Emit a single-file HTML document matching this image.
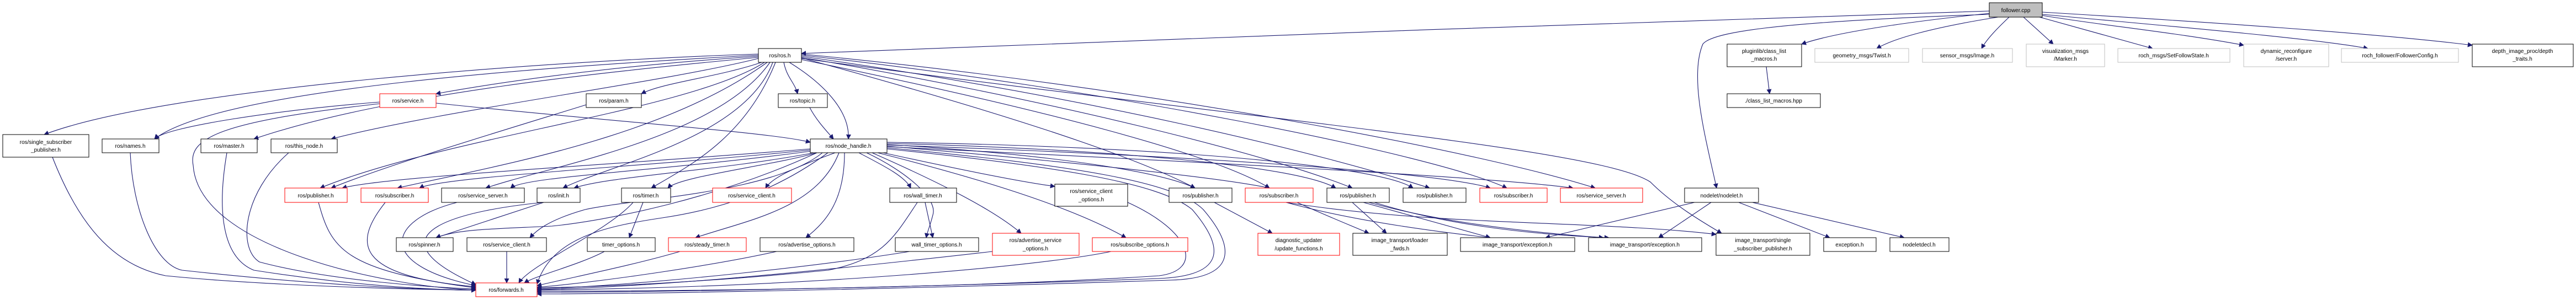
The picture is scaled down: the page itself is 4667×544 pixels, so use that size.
<!DOCTYPE html>
<html><head><meta charset="utf-8"><style>
html,body{margin:0;padding:0;background:#fff;}
svg{display:block;}
.e{fill:none;stroke:#191970;stroke-width:1.1;}
text{font-family:"Liberation Sans",sans-serif;font-size:10px;text-anchor:middle;fill:#000;}
</style></head><body>
<svg width="4667" height="544" viewBox="0 0 4667 544" xmlns="http://www.w3.org/2000/svg">
<defs><marker id="a" viewBox="0 0 10 10" refX="9" refY="5" markerWidth="9" markerHeight="9" markerUnits="userSpaceOnUse" orient="auto"><path d="M0,0 L10,5 L0,10 z" fill="#191970"/></marker></defs>
<g class="e" marker-end="url(#a)">
<!-- follower -->
<path d="M3604,20 C3000,40 2000,72 1452,97"/>
<path d="M3606,24 C3450,40 3320,60 3264,80"/>
<path d="M3620,31 C3500,50 3430,70 3400,88"/>
<path d="M3640,31 C3620,50 3600,70 3590,88"/>
<path d="M3666,31 L3720,80"/>
<path d="M3695,31 L3900,88"/>
<path d="M3700,28 C3800,45 3950,60 4065,82"/>
<path d="M3700,26 C3900,45 4200,70 4290,88"/>
<path d="M3700,22 C4000,40 4300,60 4479,82"/>
<path d="M3604,26 C3200,40 3100,60 3085,80 C3060,140 3090,250 3110,341"/>
<path d="M3200,121 L3206,170"/>
<!-- ros.h -->
<path d="M1374,98 C1000,110 300,160 80,244"/>
<path d="M1374,100 C1000,120 400,160 280,252"/>
<path d="M1374,104 C1100,130 700,170 460,252"/>
<path d="M1374,106 C1200,150 800,200 600,252"/>
<path d="M1374,102 C1100,120 900,150 790,170"/>
<path d="M1380,113 C1300,140 1200,150 1162,170"/>
<path d="M1420,113 C1425,140 1440,150 1445,170"/>
<path d="M1430,113 C1490,150 1540,200 1537,252"/>
<path d="M1385,113 C1250,200 800,250 580,341"/>
<path d="M1390,113 C1200,250 900,300 720,341"/>
<path d="M1395,113 C1300,250 1000,300 880,341"/>
<path d="M1400,113 C1350,250 1100,300 1020,341"/>
<path d="M1405,113 C1350,250 1250,300 1180,341"/>
<path d="M1452,105 C1800,200 2050,280 2165,341"/>
<path d="M1452,108 C1900,200 2200,280 2300,341"/>
<path d="M1452,104 C1900,180 2300,280 2450,341"/>
<path d="M1452,102 C2000,180 2400,280 2590,341"/>
<path d="M1452,100 C2000,160 2600,280 2730,341"/>
<path d="M1452,98 C2100,160 2700,280 2890,341"/>
<path d="M1452,106 C2300,220 2900,270 2990,330 C3030,370 3080,400 3119,423"/>
<!-- service.h, param, topic -->
<path d="M688,185 C500,200 300,230 280,252"/>
<path d="M790,187 C1100,220 1400,240 1468,258"/>
<path d="M688,188 C400,220 340,250 350,300 C360,450 700,520 862,526"/>
<path d="M1062,190 C900,240 700,300 600,341"/>
<path d="M1467,195 C1480,220 1500,240 1510,252"/>
<!-- node_handle -->
<path d="M1468,270 C1100,300 700,320 620,341"/>
<path d="M1468,272 C1200,300 800,320 760,341"/>
<path d="M1470,274 C1200,310 950,320 925,341"/>
<path d="M1475,277 C1300,310 1100,320 1040,341"/>
<path d="M1480,277 C1400,300 1230,320 1210,341"/>
<path d="M1513,277 C1450,300 1400,320 1387,341"/>
<path d="M1556,277 C1600,300 1640,320 1650,341"/>
<path d="M1600,277 C1750,310 1850,330 1911,338"/>
<path d="M1607,262 C1900,280 2100,310 2165,341"/>
<path d="M1607,265 C1900,290 2200,320 2300,341"/>
<path d="M1607,260 C2000,270 2350,300 2420,341"/>
<path d="M1607,258 C2100,265 2500,300 2560,341"/>
<path d="M1607,263 C2100,280 2600,310 2700,341"/>
<path d="M1607,266 C2100,290 2700,320 2850,341"/>
<path d="M1520,277 C1480,380 1350,400 1260,431"/>
<path d="M1530,277 C1530,360 1500,400 1460,431"/>
<path d="M1570,277 C1640,310 1700,360 1690,390 C1685,410 1680,420 1678,431"/>
<path d="M1580,277 C1700,330 1800,380 1850,423"/>
<path d="M1590,277 C1800,330 1950,380 2040,431"/>
<path d="M1480,277 C1300,360 1100,400 1000,410 C900,415 830,415 790,431"/>
<path d="M1490,277 C1400,350 1150,360 1060,380 C990,400 970,420 960,431"/>
<path d="M1500,277 C1400,350 1300,380 1200,395 C1100,410 1000,430 973,515"/>
<path d="M1607,270 C1900,300 2100,330 2160,380 C2220,450 2220,500 2100,505 C1700,520 1200,530 973,530"/>
<path d="M1607,268 C1950,300 2130,330 2180,380 C2240,450 2240,505 2120,508 C1700,522 1200,533 973,533"/>
<!-- to forwards -->
<path d="M95,285 C140,400 200,480 300,500 C500,520 800,526 862,526"/>
<path d="M236,277 C240,380 280,480 330,490 C600,520 800,526 862,526"/>
<path d="M411,277 C390,400 410,470 460,490 C650,520 800,526 862,526"/>
<path d="M523,277 C440,350 430,450 470,475 C600,510 800,522 862,524"/>
<path d="M577,367 C600,450 620,490 862,522"/>
<path d="M698,367 C640,440 640,500 862,520"/>
<path d="M828,367 C700,400 680,480 862,518"/>
<path d="M985,367 C850,380 650,420 862,516"/>
<path d="M985,367 L790,431"/>
<path d="M918,456 L918,513"/>
<path d="M1147,367 C1100,420 960,480 940,513"/>
<path d="M1165,367 L1140,431"/>
<path d="M1095,456 C1050,480 970,500 950,513"/>
<path d="M1232,456 C1150,480 1050,500 973,518"/>
<path d="M1407,456 C1300,480 1100,510 973,521"/>
<path d="M1662,367 C1620,430 1600,470 1500,490 C1300,510 1100,520 973,522"/>
<path d="M1676,367 L1690,431"/>
<path d="M1648,456 C1500,480 1200,515 973,524"/>
<path d="M1798,456 C1500,490 1200,520 973,525"/>
<path d="M2013,456 C1900,480 1500,520 973,526"/>
<path d="M2043,367 C2160,420 2180,490 2100,500 C1800,520 1300,528 973,528"/>
<!-- right side -->
<path d="M2200,367 L2305,423"/>
<path d="M2350,367 C2400,390 2450,410 2480,423"/>
<path d="M2330,367 C2450,400 2600,420 2700,431"/>
<path d="M2330,367 C2600,410 2900,400 3109,425"/>
<path d="M2450,367 L2512,423"/>
<path d="M2470,367 L2700,431"/>
<path d="M2480,367 C2600,400 2750,420 2905,431"/>
<path d="M2490,367 C2610,405 2760,425 2915,431"/>
<path d="M3070,367 L2800,431"/>
<path d="M3100,367 L3005,431"/>
<path d="M3150,367 L3315,431"/>
<path d="M3175,367 L3450,431"/>
</g>
<g stroke-width="1">
<rect x="3604" y="5" width="96" height="26" fill="#bfbfbf" stroke="#000"/>
<g fill="#fff" stroke="#000">
<rect x="1374" y="88" width="78" height="25"/>
<rect x="5" y="244" width="156" height="41"/>
<rect x="185" y="252" width="103" height="25"/>
<rect x="364" y="252" width="102" height="25"/>
<rect x="491" y="252" width="120" height="25"/>
<rect x="1062" y="170" width="100" height="25"/>
<rect x="1410" y="170" width="89" height="25"/>
<rect x="1468" y="252" width="139" height="25"/>
<rect x="800" y="341" width="150" height="26"/>
<rect x="973" y="341" width="78" height="26"/>
<rect x="1126" y="341" width="89" height="26"/>
<rect x="1612" y="341" width="121" height="26"/>
<rect x="1911" y="334" width="132" height="40"/>
<rect x="2118" y="341" width="114" height="26"/>
<rect x="2404" y="341" width="113" height="26"/>
<rect x="2542" y="341" width="114" height="26"/>
<rect x="3052" y="341" width="134" height="26"/>
<rect x="718" y="431" width="103" height="25"/>
<rect x="846" y="431" width="144" height="25"/>
<rect x="1064" y="431" width="123" height="25"/>
<rect x="1377" y="431" width="170" height="25"/>
<rect x="1622" y="431" width="151" height="25"/>
<rect x="2451" y="423" width="171" height="40"/>
<rect x="2646" y="431" width="207" height="25"/>
<rect x="2878" y="431" width="205" height="25"/>
<rect x="3109" y="423" width="170" height="40"/>
<rect x="3304" y="431" width="95" height="25"/>
<rect x="3424" y="431" width="107" height="25"/>
<rect x="3129" y="80" width="135" height="41"/>
<rect x="3129" y="170" width="169" height="25"/>
<rect x="4479" y="80" width="183" height="41"/>
</g>
<g fill="#fff" stroke="#ff0000">
<rect x="688" y="170" width="102" height="25"/>
<rect x="516" y="341" width="113" height="26"/>
<rect x="654" y="341" width="122" height="26"/>
<rect x="1291" y="341" width="143" height="26"/>
<rect x="2256" y="341" width="123" height="26"/>
<rect x="2681" y="341" width="122" height="26"/>
<rect x="2827" y="341" width="149" height="26"/>
<rect x="1211" y="431" width="141" height="25"/>
<rect x="1798" y="423" width="157" height="40"/>
<rect x="1979" y="431" width="173" height="25"/>
<rect x="2279" y="423" width="148" height="40"/>
<rect x="862" y="513" width="111" height="25"/>
</g>
<g fill="#fff" stroke="#bfbfbf">
<rect x="3288" y="88" width="170" height="25"/>
<rect x="3483" y="88" width="163" height="25"/>
<rect x="3671" y="80" width="142" height="41"/>
<rect x="3837" y="88" width="203" height="25"/>
<rect x="4065" y="80" width="154" height="41"/>
<rect x="4242" y="88" width="212" height="25"/>
</g>
</g>
<text x="3652" y="22">follower.cpp</text>
<text x="1413" y="104">ros/ros.h</text>
<text x="83" y="261">ros/single_subscriber</text><text x="83" y="275">_publisher.h</text>
<text x="236" y="268">ros/names.h</text>
<text x="415" y="268">ros/master.h</text>
<text x="551" y="268">ros/this_node.h</text>
<text x="739" y="186">ros/service.h</text>
<text x="1112" y="186">ros/param.h</text>
<text x="1454" y="186">ros/topic.h</text>
<text x="1537" y="268">ros/node_handle.h</text>
<text x="572" y="358">ros/publisher.h</text>
<text x="715" y="358">ros/subscriber.h</text>
<text x="875" y="358">ros/service_server.h</text>
<text x="1012" y="358">ros/init.h</text>
<text x="1170" y="358">ros/timer.h</text>
<text x="1362" y="358">ros/service_client.h</text>
<text x="1672" y="358">ros/wall_timer.h</text>
<text x="1977" y="350">ros/service_client</text><text x="1977" y="365">_options.h</text>
<text x="2175" y="358">ros/publisher.h</text>
<text x="2317" y="358">ros/subscriber.h</text>
<text x="2460" y="358">ros/publisher.h</text>
<text x="2599" y="358">ros/publisher.h</text>
<text x="2742" y="358">ros/subscriber.h</text>
<text x="2901" y="358">ros/service_server.h</text>
<text x="3119" y="358">nodelet/nodelet.h</text>
<text x="769" y="447">ros/spinner.h</text>
<text x="918" y="447">ros/service_client.h</text>
<text x="1125" y="447">timer_options.h</text>
<text x="1281" y="447">ros/steady_timer.h</text>
<text x="1462" y="447">ros/advertise_options.h</text>
<text x="1697" y="447">wall_timer_options.h</text>
<text x="1876" y="439">ros/advertise_service</text><text x="1876" y="454">_options.h</text>
<text x="2065" y="447">ros/subscribe_options.h</text>
<text x="2353" y="439">diagnostic_updater</text><text x="2353" y="454">/update_functions.h</text>
<text x="2536" y="439">image_transport/loader</text><text x="2536" y="454">_fwds.h</text>
<text x="2749" y="447">image_transport/exception.h</text>
<text x="2980" y="447">image_transport/exception.h</text>
<text x="3194" y="439">image_transport/single</text><text x="3194" y="454">_subscriber_publisher.h</text>
<text x="3351" y="447">exception.h</text>
<text x="3477" y="447">nodeletdecl.h</text>
<text x="917" y="529">ros/forwards.h</text>
<text x="3196" y="96">pluginlib/class_list</text><text x="3196" y="110">_macros.h</text>
<text x="3213" y="186">./class_list_macros.hpp</text>
<text x="3373" y="104">geometry_msgs/Twist.h</text>
<text x="3564" y="104">sensor_msgs/Image.h</text>
<text x="3742" y="96">visualization_msgs</text><text x="3742" y="110">/Marker.h</text>
<text x="3938" y="104">roch_msgs/SetFollowState.h</text>
<text x="4142" y="96">dynamic_reconfigure</text><text x="4142" y="110">/server.h</text>
<text x="4348" y="104">roch_follower/FollowerConfig.h</text>
<text x="4570" y="96">depth_image_proc/depth</text><text x="4570" y="110">_traits.h</text>
</svg>
</body></html>
